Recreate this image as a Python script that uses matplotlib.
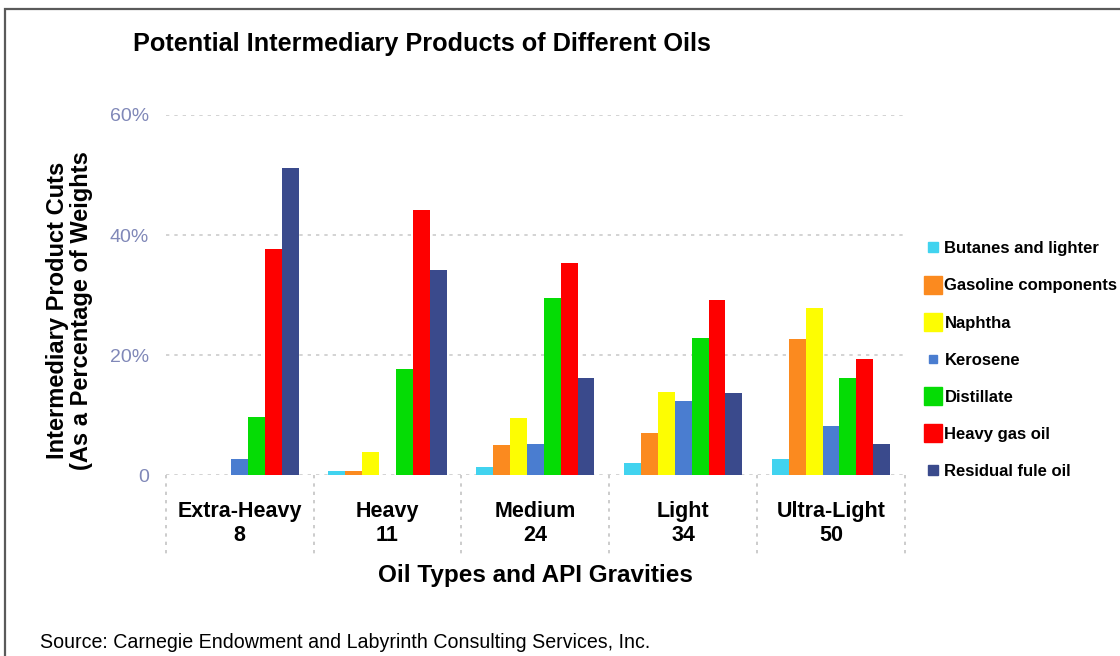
import numpy as np
import matplotlib
matplotlib.use("Agg")
import matplotlib.pyplot as plt
from matplotlib.lines import Line2D
from matplotlib.patches import Rectangle

# oil types and API gravities
categories = ["Extra-Heavy", "Heavy", "Medium", "Light", "Ultra-Light"]
api_gravity = [8, 11, 24, 34, 50]

# product cuts, % of weight
butanes = [0.0, 0.6, 1.3, 2.0, 2.7]
gasoline = [0.0, 0.6, 5.0, 7.0, 22.7]
naphtha = [0.0, 3.9, 9.5, 13.8, 27.9]
kerosene = [2.6, 0.0, 5.1, 12.3, 8.2]
distillate = [9.7, 17.7, 29.5, 22.8, 16.2]
heavy_gas_oil = [37.7, 44.2, 35.3, 29.2, 19.3]
residual = [51.2, 34.2, 16.2, 13.7, 5.1]

series_names = ["Butanes and lighter", "Gasoline components", "Naphtha",
                "Kerosene", "Distillate", "Heavy gas oil", "Residual fule oil"]
series_values = [butanes, gasoline, naphtha, kerosene, distillate,
                 heavy_gas_oil, residual]
colors = ["#41d3ef", "#fb8a1f", "#fdfd02", "#4a7dd0", "#05dc05",
          "#fe0000", "#3a4a8c"]
legend_sizes = [7, 13, 13, 6, 13, 13, 7]

plt.rcParams['font.family'] = ['Liberation Sans', 'DejaVu Sans']

fig = plt.figure(figsize=(11.2, 6.56), dpi=100)
ax = fig.add_axes([0.148, 0.2759, 0.660, 0.5488])

x = np.arange(len(categories))
n = len(series_values)
w = 0.8 / n
for i, (vals, col) in enumerate(zip(series_values, colors)):
    ax.bar(x + (i - (n - 1) / 2) * w, vals, width=w, color=col,
           edgecolor='none', zorder=3)

ax.set_xlim(-0.5, len(categories) - 0.5)
ax.set_ylim(0, 60)
ax.set_yticks([0, 20, 40, 60])
ax.set_yticklabels(["0" if v == 0 else f"{v}%" for v in [0, 20, 40, 60]],
                   color="#8088b8", fontsize=14)
ax.tick_params(axis='y', length=0, pad=12)
ax.yaxis.grid(True, linestyle=(0, (2, 3)), color="#cccccc", linewidth=1.2)
ax.set_axisbelow(True)
for s in ax.spines.values():
    s.set_visible(False)

ax.set_xticks(x)
ax.set_xticklabels([f"{c}\n{g}" for c, g in zip(categories, api_gravity)],
                   fontsize=15.5, fontweight='bold', linespacing=1.15)
ax.tick_params(axis='x', length=0, pad=19)

# dotted separators between the groups
bounds = np.arange(len(categories) + 1) - 0.5
ax.vlines(bounds, 0, -0.22, transform=ax.get_xaxis_transform(),
          colors="#c4c4c4", linestyles=(0, (2, 3)), linewidth=1.2,
          clip_on=False)

ax.set_xlabel("Oil Types and API Gravities", fontsize=17.5, fontweight='bold',
              labelpad=13)

fig.text(0.062, 0.527, "Intermediary Product Cuts\n(As a Percentage of Weights",
         rotation=90, ha='center', va='center', fontsize=17, fontweight='bold',
         linespacing=1.05)

fig.text(0.119, 0.933, "Potential Intermediary Products of Different Oils",
         ha='left', va='center', fontsize=18.2, fontweight='bold')

fig.text(0.036, 0.02, "Source: Carnegie Endowment and Labyrinth Consulting Services, Inc.",
         ha='left', va='center', fontsize=14.1)

handles = [Line2D([], [], marker='s', linestyle='none', color=c, markersize=ms)
           for c, ms in zip(colors, legend_sizes)]
fig.legend(handles, series_names, loc='upper left',
           bbox_to_anchor=(0.818, 0.645), frameon=False,
           prop={'weight': 'bold', 'size': 12}, labelspacing=1.33,
           handlelength=1.0, handletextpad=0.2, borderpad=0)

# frame around the picture
fig.patches.append(Rectangle((0.0045, -0.1), 1.2, 1.0909 - 0.0045,
                             transform=fig.transFigure, fill=False,
                             edgecolor="#5a5a5a", linewidth=1.6))

fig.savefig("out.png", dpi=100)
